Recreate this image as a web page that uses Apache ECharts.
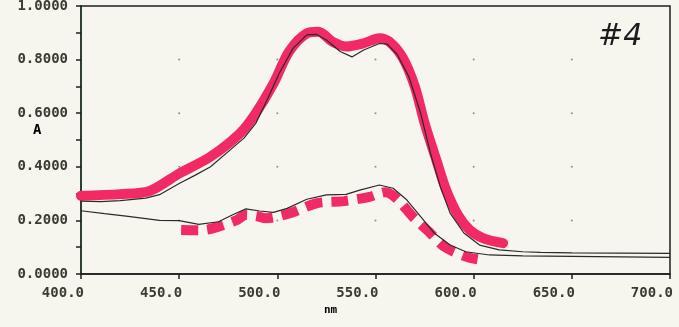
<!DOCTYPE html>
<html>
<head>
<meta charset="utf-8">
<script src="https://cdn.jsdelivr.net/npm/echarts@6/dist/echarts.min.js"></script>
<style>
  html, body { margin: 0; padding: 0; background: #f6f6ef; }
  #main { width: 679px; height: 327px; }
</style>
</head>
<body>
<div id="main"></div>
<script>
// spectrum traces (nm, absorbance)
const upperTrace = [[400,0.272],[410,0.270],[420,0.274],[433,0.283],[440,0.296],[450,0.338],[458,0.368],[466,0.40],[476,0.463],[483,0.507],[489,0.562],[494,0.637],[501,0.749],[508,0.842],[515,0.892],[520,0.894],[525,0.873],[532,0.83],[538,0.81],[544,0.836],[552,0.86],[556,0.858],[561,0.82],[567,0.736],[573,0.60],[578,0.45],[583,0.326],[588,0.227],[595,0.153],[603,0.108],[613,0.09],[625,0.083],[634,0.081],[650,0.079],[675,0.078],[700,0.077]];
const lowerTrace = [[400,0.236],[412,0.225],[423,0.216],[440,0.20],[450,0.199],[460,0.185],[470,0.195],[477,0.22],[484,0.243],[491,0.235],[498,0.23],[505,0.245],[515,0.279],[525,0.295],[535,0.297],[542,0.313],[552,0.332],[559,0.32],[566,0.276],[573,0.214],[580,0.152],[588,0.108],[596,0.083],[608,0.071],[625,0.068],[650,0.066],[675,0.064],[700,0.062]];
// hand-drawn red overlays
const redSolid = [[400,0.292],[420,0.298],[435,0.31],[450,0.375],[466,0.438],[481,0.525],[489,0.60],[498,0.71],[506,0.83],[515,0.898],[521,0.904],[528,0.867],[535,0.849],[544,0.861],[552,0.88],[557,0.867],[564,0.805],[570,0.70],[575,0.563],[581,0.425],[586,0.313],[592,0.22],[598,0.164],[605,0.133],[615,0.115]];
const redDashed = [[451,0.164],[460,0.163],[467,0.17],[479,0.20],[484,0.22],[490,0.215],[494,0.208],[506,0.226],[520,0.264],[534,0.272],[547,0.288],[555,0.305],[561,0.28],[569,0.214],[578,0.152],[585,0.102],[596,0.065],[602,0.055]];

const dotX = [450, 500, 550, 600, 650];
const dotY = [0.2, 0.4, 0.6, 0.8];
const gridDots = [];
dotX.forEach(x => dotY.forEach(y => gridDots.push([x, y])));

const labelFont = { fontFamily: 'DejaVu Sans Mono', fontWeight: 'bold', fontSize: 14, color: '#3b3b33' };
const red = '#f22a63';

const myChart = echarts.init(document.querySelector('#main'));

const option = {
    backgroundColor: '#f6f6ef',
    animation: false,
    grid: {
        left: 81,
        right: 9,
        top: 6,
        bottom: 53,
        outerBoundsMode: 'none',
        show: true,
        borderColor: '#1e1e1e',
        borderWidth: 1.5
    },
    xAxis: {
        type: 'value',
        min: 400,
        max: 700,
        interval: 50,
        splitLine: { show: false },
        axisLine: { lineStyle: { color: '#1e1e1e', width: 1.5 } },
        axisTick: { length: 5, lineStyle: { color: '#1e1e1e', width: 1.5 } },
        axisLabel: Object.assign({ margin: 12, align: 'right', padding: [0, -3, 0, 0], formatter: v => v.toFixed(1) }, labelFont)
    },
    yAxis: {
        type: 'value',
        min: 0,
        max: 1,
        interval: 0.2,
        splitLine: { show: false },
        axisLine: { lineStyle: { color: '#1f3a2c', width: 1.5 } },
        axisTick: { length: 5, lineStyle: { color: '#1e1e1e', width: 1.5 } },
        minorTick: { show: true, splitNumber: 2, length: 5, lineStyle: { color: '#1e1e1e', width: 1.5 } },
        axisLabel: Object.assign({ margin: 13, formatter: v => v.toFixed(4) }, labelFont)
    },
    graphic: [
        { type: 'text', left: 33, top: 123, style: Object.assign({ text: 'A' }, labelFont) },
        { type: 'text', left: 324, top: 305, style: Object.assign({ text: 'nm' }, labelFont, { fontSize: 11 }) },
        { type: 'text', left: 598, top: 22, style: { text: '#4', fontFamily: 'DejaVu Sans', fontStyle: 'italic', fontSize: 30, fill: '#1c1c1c' } }
    ],
    series: [
        {
            type: 'scatter',
            data: gridDots,
            symbolSize: 2,
            itemStyle: { color: '#777' },
            silent: true
        },
        {
            type: 'line',
            data: redSolid,
            smooth: 0.3,
            showSymbol: false,
            lineStyle: { color: red, width: 10, cap: 'round', join: 'round' }
        },
        {
            type: 'line',
            data: redDashed,
            smooth: 0.3,
            showSymbol: false,
            lineStyle: { color: red, width: 10, type: [17, 9], cap: 'butt' }
        },
        {
            type: 'line',
            data: upperTrace,
            showSymbol: false,
            lineStyle: { color: '#2a2a2a', width: 1.2 }
        },
        {
            type: 'line',
            data: lowerTrace,
            showSymbol: false,
            lineStyle: { color: '#2a2a2a', width: 1.2 }
        }
    ]
};

myChart.setOption(option, true);
</script>
</body>
</html>
